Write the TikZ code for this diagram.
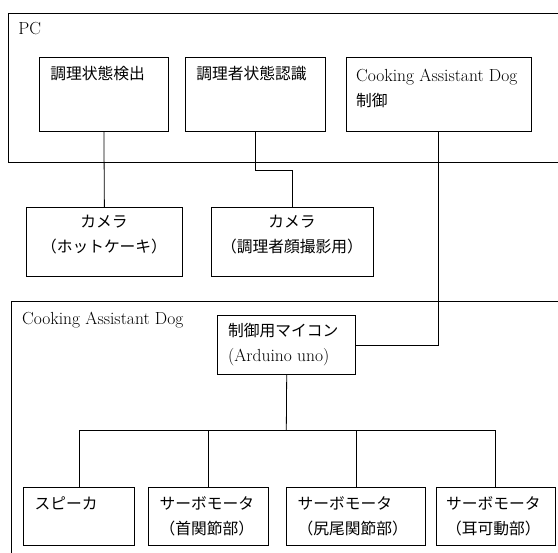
\documentclass[tikz,border=0pt]{standalone}
\usepackage{fontspec}
\newfontfamily\jp[Scale=0.9]{Noto Sans CJK JP}

\begin{document}
\begin{tikzpicture}
[x=1pt,y=-1pt,line width=0.8pt,
 box/.style={draw,anchor=north west,inner sep=0pt},
 txt/.style={inner sep=0pt,align=left,anchor=west,font=\fontsize{17.5}{25}\selectfont}]
\useasboundingbox (0,0) rectangle (558,553);
\clip (0,0) rectangle (558,553);
% PC side
\node[box,minimum width=570,minimum height=149.3] (pc) at (8,12.7) {};
\node[box,minimum width=128.4,minimum height=73.7] (b1) at (39.3,57.3) {};
\node[box,minimum width=140.3,minimum height=73.7] (b2) at (185,57.3) {};
\node[box,minimum width=184.7,minimum height=73.7] (b3) at (346,57.3) {};
\node[box,minimum width=156,minimum height=68.7] (cam1) at (26,207.3) {};
\node[box,minimum width=162.3,minimum height=68.7] (cam2) at (210.7,207.3) {};
% dog side
\node[box,minimum width=570,minimum height=270] (cad) at (11,301) {};
\node[box,minimum width=138,minimum height=59.3] (mcu) at (217.3,315) {};
\node[box,minimum width=111,minimum height=58.6] (spk) at (23.3,486.7) {};
\node[box,minimum width=120,minimum height=58.6] (srv1) at (148.3,486.7) {};
\node[box,minimum width=138.4,minimum height=58.6] (srv2) at (286.3,486.7) {};
\node[box,minimum width=119.3,minimum height=58.6] (srv3) at (435.7,486.7) {};
% texts
\node[txt] (pcl) at (18,28.5) {PC};
\node[txt] (t1) at (50,73.5) {\jp 調理状態検出};
\node[txt] (t2) at (196,73.5) {\jp 調理者状態認識};
\node[txt] (t3) at (355.7,88) {Cooking Assistant Dog\\\jp 制御};
\node[txt,anchor=center,align=center] (tc1) at (104,234.2) {\jp カメラ\\\jp （ホットケーキ）};
\node[txt,anchor=center,align=center] (tc2) at (291.9,234.2) {\jp カメラ\\\jp （調理者顔撮影用）};
\node[txt] (cadl) at (21.7,320) {Cooking Assistant Dog};
\node[txt] (tm) at (227.7,344.5) {\jp 制御用マイコン\\(Arduino uno)};
\node[txt] (ts) at (34.3,503.7) {\jp スピーカ};
\node[txt] (ts1) at (159.3,516) {\jp サーボモータ\\\jp （首関節部）};
\node[txt] (ts2) at (297.3,516) {\jp サーボモータ\\\jp （尻尾関節部）};
\node[txt] (ts3) at (445.7,516) {\jp サーボモータ\\\jp （耳可動部）};
% links
\draw (b1.south) -- (cam1.north);
\draw (b2.south) -- ++(0,38.3) -| (cam2.north);
\draw (b3.south) |- (mcu.east);
\coordinate (bus) at (286.3,430.3);
\draw (mcu.south) -- (bus);
\foreach \n in {spk,srv1,srv2,srv3}
\draw (bus) -| (\n.north);
\end{tikzpicture}
\end{document}
